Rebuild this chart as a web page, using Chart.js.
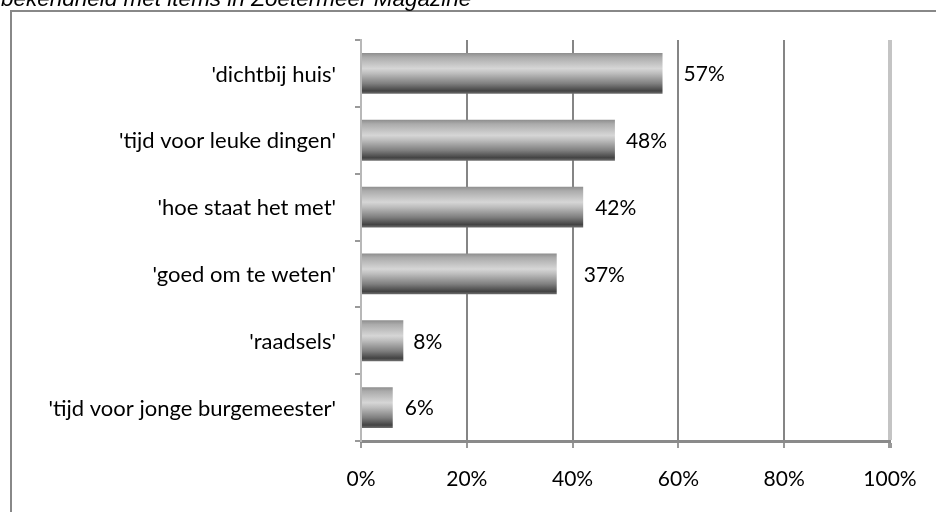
<!DOCTYPE html>
<html>
<head>
<meta charset="utf-8">
<script src="https://cdn.jsdelivr.net/npm/chart.js@4.4.1/dist/chart.umd.min.js"></script>
<style>
    html, body { margin: 0; padding: 0; background: #fff; }
    #wrap { width: 936px; height: 512px; position: relative; }
</style>
</head>
<body>
<div id="wrap"><canvas id="chart" width="936" height="512"></canvas></div>
<script>
const titleText = 'bekendheid met items in Zoetermeer Magazine';
const categories = [
    "'dichtbij huis'",
    "'tijd voor leuke dingen'",
    "'hoe staat het met'",
    "'goed om te weten'",
    "'raadsels'",
    "'tijd voor jonge burgemeester'"
];
const percentages = [57, 48, 42, 37, 8, 6];
const tickValues = [0, 20, 40, 60, 80, 100];

const labelFont = { family: 'Lato, "Open Sans", sans-serif', size: 21 };
const barPct = 0.61;
// the original puts the value labels at uneven distances from the bar ends
const labelGaps = [21, 11, 12, 27, 10, 12];

// frame and the (cut off) title, drawn before everything else
const framePlugin = {
    id: 'frame',
    beforeDraw(chart) {
        const c = chart.ctx;
        c.save();
        c.fillStyle = '#fff';
        c.fillRect(0, 0, chart.width, chart.height);
        c.strokeStyle = '#888';
        c.lineWidth = 2;
        c.beginPath();
        c.moveTo(11, chart.height);
        c.lineTo(11, 11);
        c.lineTo(chart.width, 11);
        c.stroke();
        c.fillStyle = '#000';
        c.font = 'italic 22.5px "Liberation Sans", Arial, sans-serif';
        c.textBaseline = 'alphabetic';
        c.fillText(titleText, 1, 6);
        c.restore();
    }
};

// percentage next to each bar
const valueLabels = {
    id: 'valueLabels',
    afterDatasetsDraw(chart) {
        const c = chart.ctx;
        const meta = chart.getDatasetMeta(0);
        c.save();
        c.font = `${labelFont.size}px ${labelFont.family}`;
        c.fillStyle = '#000';
        c.textAlign = 'left';
        c.textBaseline = 'middle';
        meta.data.forEach((bar, i) => {
            c.fillText(percentages[i] + '%', bar.x + labelGaps[i], bar.y + 1);
        });
        c.restore();
    }
};

function barGradient(context) {
    const chart = context.chart;
    const y = chart.scales.y;
    if (!y || !chart.chartArea) return '#aaa';
    const center = y.getPixelForValue(context.dataIndex);
    const half = (y.height / categories.length) * barPct / 2;
    const g = chart.ctx.createLinearGradient(0, center - half, 0, center + half);
    g.addColorStop(0, '#8e8e8e');
    g.addColorStop(0.1, '#ababab');
    g.addColorStop(0.38, '#d6d6d6');
    g.addColorStop(0.5, '#bdbdbd');
    g.addColorStop(0.75, '#7f7f7f');
    g.addColorStop(0.93, '#434343');
    g.addColorStop(1, '#707070');
    return g;
}

new Chart(document.getElementById('chart'), {
    type: 'bar',
    data: {
        labels: categories,
        datasets: [{
            data: percentages,
            backgroundColor: barGradient,
            borderWidth: 0,
            categoryPercentage: 1,
            barPercentage: barPct
        }]
    },
    options: {
        indexAxis: 'y',
        responsive: false,
        animation: false,
        layout: { padding: { top: 40, right: 46, left: 0, bottom: 0 } },
        plugins: {
            legend: { display: false },
            tooltip: { enabled: false },
            title: { display: false }
        },
        scales: {
            x: {
                min: 0,
                max: 100,
                afterBuildTicks(scale) {
                    scale.ticks = tickValues.map(v => ({ value: v }));
                },
                afterFit(scale) { scale.height = 71; },
                ticks: {
                    padding: 19,
                    color: '#000',
                    font: labelFont,
                    callback: v => v + '%'
                },
                grid: {
                    color: ctx => ctx.tick && ctx.tick.value === 100 ? '#c4c4c4' : '#858585',
                    lineWidth: ctx => ctx.tick && ctx.tick.value === 100 ? 4 : 2,
                    tickColor: '#999',
                    tickLength: 7
                },
                border: { color: '#8a8a8a', width: 3 }
            },
            y: {
                afterFit(scale) { scale.width = 361; },
                ticks: {
                    padding: 19,
                    labelOffset: 1,
                    color: '#000',
                    font: { family: labelFont.family, size: 22 }
                },
                grid: {
                    drawOnChartArea: false,
                    color: '#999',
                    tickLength: 6,
                    lineWidth: 2
                },
                border: { color: '#b8b8b8', width: 2 }
            }
        }
    },
    plugins: [framePlugin, valueLabels]
});
</script>
</body>
</html>
